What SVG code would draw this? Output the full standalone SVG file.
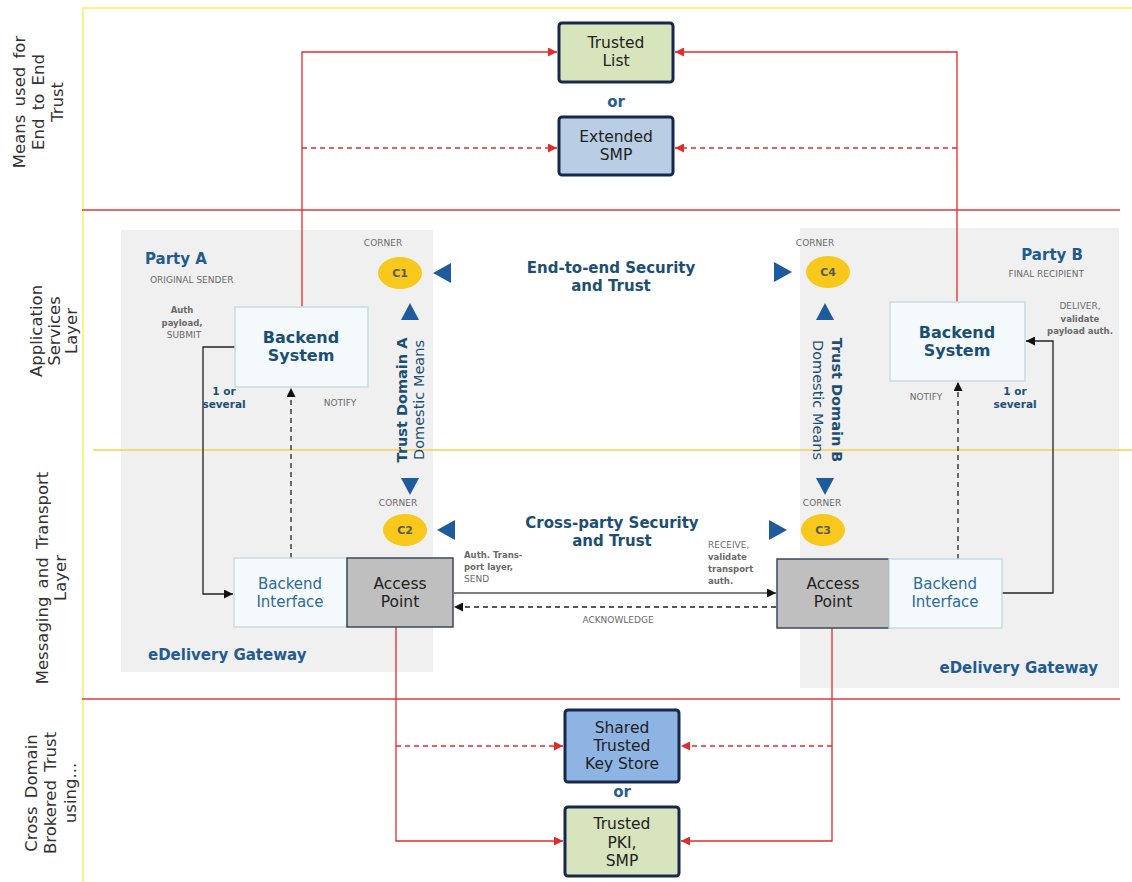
<svg xmlns="http://www.w3.org/2000/svg" width="1132" height="882" viewBox="0 0 1132 882">
<style>
text{font-family:"DejaVu Sans",Verdana,sans-serif}
.lay{font-size:16.5px;fill:#333;text-anchor:middle;dominant-baseline:central;word-spacing:3px}
.box{font-size:15.5px;fill:#222;text-anchor:middle}
.bs{font-size:16px;font-weight:bold;fill:#1b4f72;text-anchor:middle}
.bi{font-size:15px;fill:#2e6a9c;text-anchor:middle}
.ttl{font-size:15px;font-weight:bold;fill:#245b8f}
.sec{font-size:15px;font-weight:bold;fill:#1d4f73;text-anchor:middle}
.sm{font-size:9px;fill:#6a6a6a}
.smb{font-size:8.5px;fill:#6a6a6a;font-weight:bold}
.sev{font-size:10.5px;font-weight:bold;fill:#1d4f73;text-anchor:middle}
.or{font-size:15px;font-weight:bold;fill:#2a5d8f;text-anchor:middle}
.cl{font-size:11px;font-weight:bold;fill:#5a5a5a;text-anchor:middle;dominant-baseline:central}
.tb{fill:#1f5a9c}
.ell{fill:#f8c81c}
.red{stroke:#e32b2b;stroke-width:1.3;fill:none}
.redd{stroke:#e32b2b;stroke-width:1.3;fill:none;stroke-dasharray:5 4}
.blk{stroke:#222;stroke-width:1.3;fill:none}
.blkd{stroke:#222;stroke-width:1.3;fill:none;stroke-dasharray:5 4}
.trust{stroke:#17294a;stroke-width:3}
.bk{fill:#f4f9fb;stroke:#c6dbe2;stroke-width:1.5}
.ap{fill:#bfbfbf;stroke:#3b4a5e;stroke-width:1.5}
.td{font-size:14.5px;fill:#1d4f73;text-anchor:middle;dominant-baseline:central}
</style>
<defs>
<marker id="ar" viewBox="0 0 10 10" refX="10" refY="5" markerWidth="9" markerHeight="9" markerUnits="userSpaceOnUse" orient="auto"><path d="M0,0 L10,5 L0,10 z" fill="#e32b2b"/></marker>
<marker id="ab" viewBox="0 0 10 10" refX="10" refY="5" markerWidth="9" markerHeight="9" markerUnits="userSpaceOnUse" orient="auto"><path d="M0,0 L10,5 L0,10 z" fill="#111"/></marker>
</defs>
<rect width="1132" height="882" fill="#fff"/>

<!-- frame and layer lines -->
<g id="frame">
<line x1="83" y1="8" x2="1132" y2="8" stroke="#f5f25a" stroke-width="1.5"/>
<line x1="83" y1="8" x2="83" y2="882" stroke="#f5f25a" stroke-width="1.5"/>
<line x1="82" y1="210" x2="1120" y2="210" stroke="#e0383c" stroke-width="1.3"/>
<line x1="82" y1="699" x2="1120" y2="699" stroke="#e0383c" stroke-width="1.3"/>
</g>

<!-- party panels -->
<g id="panelA"><rect x="121" y="230" width="312" height="442" fill="#f0f0f0"/></g>
<g id="panelB"><rect x="800" y="228" width="319" height="460" fill="#f0f0f0"/></g>
<line x1="93" y1="450" x2="1132" y2="450" stroke="#f5d24c" stroke-width="1.5"/>

<!-- layer labels -->
<g id="layer-labels">
<text class="lay" transform="translate(19,102) rotate(-90)">Means used for</text>
<text class="lay" transform="translate(38,102) rotate(-90)">End to End</text>
<text class="lay" transform="translate(57,102) rotate(-90)">Trust</text>
<text class="lay" transform="translate(36,331) rotate(-90)">Application</text>
<text class="lay" transform="translate(54,331) rotate(-90)">Services</text>
<text class="lay" transform="translate(71,331) rotate(-90)">Layer</text>
<text class="lay" transform="translate(42,578) rotate(-90)">Messaging and Transport</text>
<text class="lay" transform="translate(60,578) rotate(-90)">Layer</text>
<text class="lay" transform="translate(31,793) rotate(-90)">Cross Domain</text>
<text class="lay" transform="translate(50,793) rotate(-90)">Brokered Trust</text>
<text class="lay" transform="translate(70,793) rotate(-90)">using...</text>
</g>

<!-- connectors -->
<g id="connectors">
<polyline class="red" points="302,307 302,52 557,52" marker-end="url(#ar)"/>
<line class="redd" x1="302" y1="148" x2="557" y2="148" marker-end="url(#ar)"/>
<polyline class="red" points="957,302 957,52 675,52" marker-end="url(#ar)"/>
<line class="redd" x1="957" y1="148" x2="675" y2="148" marker-end="url(#ar)"/>
<polyline class="red" points="396,627 396,841 563,841" marker-end="url(#ar)"/>
<line class="redd" x1="396" y1="746" x2="563" y2="746" marker-end="url(#ar)"/>
<polyline class="red" points="832,628 832,841 681,841" marker-end="url(#ar)"/>
<line class="redd" x1="832" y1="746" x2="681" y2="746" marker-end="url(#ar)"/>
<polyline class="blk" points="235,347 203,347 203,594 233,594" marker-end="url(#ab)"/>
<line class="blkd" x1="291" y1="558" x2="291" y2="388" marker-end="url(#ab)"/>
<polyline class="blk" points="1002,593 1053,593 1053,341 1026,341" marker-end="url(#ab)"/>
<line class="blkd" x1="958" y1="559" x2="958" y2="382" marker-end="url(#ab)"/>
<line x1="454" y1="593" x2="776" y2="593" stroke="#555" stroke-width="1.5" marker-end="url(#ab)"/>
<line class="blkd" x1="776" y1="607" x2="454" y2="607" marker-end="url(#ab)"/>
</g>

<!-- trust boxes -->
<g id="trusted-list">
<rect class="trust" x="559" y="23" width="114" height="59" rx="3" fill="#d8e4bc"/>
<text class="box" x="616" y="48">Trusted</text>
<text class="box" x="616" y="66">List</text>
</g>
<text class="or" x="616" y="107">or</text>
<g id="extended-smp">
<rect class="trust" x="559" y="117" width="114" height="58" rx="3" fill="#b9cde5"/>
<text class="box" x="616" y="142">Extended</text>
<text class="box" x="616" y="160">SMP</text>
</g>
<g id="shared-key-store">
<rect class="trust" x="565" y="710" width="114" height="72" rx="3" fill="#8eb4e3"/>
<text class="box" x="622" y="733">Shared</text>
<text class="box" x="622" y="751">Trusted</text>
<text class="box" x="622" y="769">Key Store</text>
</g>
<text class="or" x="622" y="797">or</text>
<g id="trusted-pki">
<rect class="trust" x="565" y="807" width="114" height="69" rx="3" fill="#d7e4bd"/>
<text class="box" x="622" y="829">Trusted</text>
<text class="box" x="622" y="848">PKI,</text>
<text class="box" x="622" y="866">SMP</text>
</g>

<!-- party A -->
<g id="partyA-labels">
<text class="ttl" x="145" y="264">Party A</text>
<text class="sm" x="150" y="283">ORIGINAL SENDER</text>
<text class="smb" x="182" y="313" text-anchor="middle">Auth</text>
<text class="smb" x="182" y="326" text-anchor="middle">payload,</text>
<text class="sm" x="184" y="338" text-anchor="middle">SUBMIT</text>
<text class="sev" x="224" y="395">1 or</text>
<text class="sev" x="224" y="408">several</text>
<text class="sm" x="340" y="406" text-anchor="middle">NOTIFY</text>
<text class="ttl" x="148" y="660">eDelivery Gateway</text>
</g>
<g id="backend-system-a">
<rect class="bk" x="235" y="307" width="133" height="80"/>
<text class="bs" x="301" y="343">Backend</text>
<text class="bs" x="301" y="361">System</text>
</g>
<g id="backend-interface-a">
<rect class="bk" x="234" y="558" width="113" height="69"/>
<text class="bi" x="290" y="589">Backend</text>
<text class="bi" x="290" y="607">Interface</text>
</g>
<g id="access-point-a">
<rect class="ap" x="347" y="558" width="106" height="69"/>
<text class="box" x="400" y="589">Access</text>
<text class="box" x="400" y="607">Point</text>
</g>

<!-- party B -->
<g id="partyB-labels">
<text class="ttl" x="1083" y="260" text-anchor="end">Party B</text>
<text class="sm" x="1084" y="277" text-anchor="end">FINAL RECIPIENT</text>
<text class="sm" x="1080" y="309" text-anchor="middle">DELIVER,</text>
<text class="smb" x="1080" y="322" text-anchor="middle">validate</text>
<text class="smb" x="1080" y="334" text-anchor="middle">payload auth.</text>
<text class="sev" x="1015" y="395">1 or</text>
<text class="sev" x="1015" y="408">several</text>
<text class="sm" x="926" y="400" text-anchor="middle">NOTIFY</text>
<text class="ttl" x="1098" y="673" text-anchor="end">eDelivery Gateway</text>
</g>
<g id="backend-system-b">
<rect class="bk" x="890" y="302" width="135" height="79"/>
<text class="bs" x="957" y="338">Backend</text>
<text class="bs" x="957" y="356">System</text>
</g>
<g id="access-point-b">
<rect class="ap" x="777" y="559" width="112" height="69"/>
<text class="box" x="833" y="589">Access</text>
<text class="box" x="833" y="607">Point</text>
</g>
<g id="backend-interface-b">
<rect class="bk" x="889" y="559" width="113" height="69"/>
<text class="bi" x="945" y="589">Backend</text>
<text class="bi" x="945" y="607">Interface</text>
</g>

<!-- transport labels -->
<g id="transport-labels">
<text class="smb" x="464" y="558">Auth. Trans-</text>
<text class="smb" x="464" y="570">port layer,</text>
<text class="sm" x="464" y="582">SEND</text>
<text class="sm" x="708" y="548">RECEIVE,</text>
<text class="smb" x="708" y="560">validate</text>
<text class="smb" x="708" y="572">transport</text>
<text class="smb" x="708" y="584">auth.</text>
<text class="sm" x="618" y="623" text-anchor="middle">ACKNOWLEDGE</text>
</g>

<!-- security labels -->
<g id="end-to-end">
<text class="sec" x="611" y="273">End-to-end Security</text>
<text class="sec" x="611" y="291">and Trust</text>
</g>
<g id="cross-party">
<text class="sec" x="612" y="528">Cross-party Security</text>
<text class="sec" x="612" y="546">and Trust</text>
</g>

<!-- corners -->
<g id="corner-c1">
<text class="sm" x="383" y="246" text-anchor="middle">CORNER</text>
<ellipse class="ell" cx="400" cy="273" rx="22" ry="16"/>
<text class="cl" x="400" y="273">C1</text>
<path class="tb" d="M433,273 L451,263 L451,283 z"/>
</g>
<g id="trust-domain-a">
<path class="tb" d="M401,320 L410,303 L419,320 z"/>
<text class="td" font-weight="bold" transform="translate(402,400) rotate(-90)">Trust Domain A</text>
<text class="td" transform="translate(419,400) rotate(-90)">Domestic Means</text>
<path class="tb" d="M401,478 L419,478 L410,495 z"/>
</g>
<g id="corner-c2">
<text class="sm" x="398" y="506" text-anchor="middle">CORNER</text>
<ellipse class="ell" cx="405" cy="530" rx="22" ry="16"/>
<text class="cl" x="405" y="530">C2</text>
<path class="tb" d="M437,530 L455,520 L455,540 z"/>
</g>
<g id="corner-c4">
<text class="sm" x="815" y="246" text-anchor="middle">CORNER</text>
<ellipse class="ell" cx="828" cy="272" rx="22" ry="16"/>
<text class="cl" x="828" y="272">C4</text>
<path class="tb" d="M774,262 L792,272 L774,282 z"/>
</g>
<g id="trust-domain-b">
<path class="tb" d="M816,320 L825,303 L834,320 z"/>
<text class="td" font-weight="bold" transform="translate(837,400) rotate(90)">Trust Domain B</text>
<text class="td" transform="translate(818,400) rotate(90)">Domestic Means</text>
<path class="tb" d="M816,478 L834,478 L825,495 z"/>
</g>
<g id="corner-c3">
<text class="sm" x="822" y="506" text-anchor="middle">CORNER</text>
<ellipse class="ell" cx="823" cy="530" rx="22" ry="16"/>
<text class="cl" x="823" y="530">C3</text>
<path class="tb" d="M769,520 L787,530 L769,540 z"/>
</g>
</svg>
